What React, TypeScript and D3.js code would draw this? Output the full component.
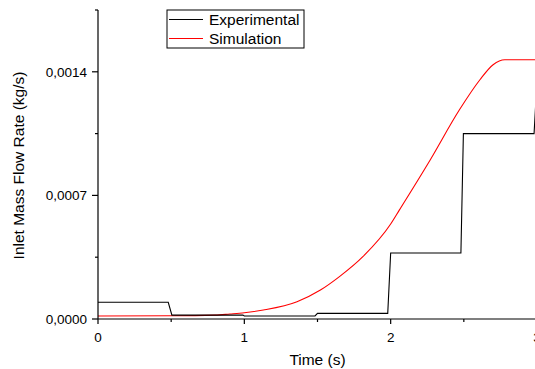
import React, { useEffect, useRef } from 'react';
import * as d3 from 'd3';

// Experimental (black step-like trace): [time s, flow kg/s]
const expTime = [0, 0.48, 0.505, 0.99, 1.0, 1.483, 1.5, 1.98, 2.0, 2.48, 2.497, 2.98, 2.99, 3.0];
const expFlow = [0.000095, 0.000095, 0.000022, 0.000022, 0.000017, 0.000017, 0.000032, 0.000032, 0.000374, 0.000374, 0.00105, 0.00105, 0.0012, 0.0012];

// Simulation (red smooth curve)
const simTime = [0, 0.5, 0.8, 0.9, 1.0, 1.13, 1.36, 1.52, 1.65, 1.81, 2.0, 2.06, 2.27, 2.47, 2.61, 2.7, 2.78, 3.0];
const simFlow = [0.000017, 0.000018, 0.000022, 0.000028, 0.000035, 0.000051, 0.000098, 0.000164, 0.00024, 0.000353, 0.000538, 0.000618, 0.000901, 0.001185, 0.001355, 0.00144, 0.001468, 0.001468];

const xMajor = [0, 1, 2, 3];
const xMinor = [0.5, 1.5, 2.5];
const yMajor = [0, 0.0007, 0.0014];
const yMinor = [0.00035, 0.00105, 0.00175];

const seriesNames = ['Experimental', 'Simulation'];
const seriesColors = ['#000000', '#ff0000'];

export default function App() {
  const svgRef = useRef<SVGSVGElement>(null);

  useEffect(() => {
    if (!svgRef.current) return;
    const svg = d3.select(svgRef.current);
    svg.selectAll('*').remove();

    const margin = { left: 98, top: 10, bottom: 50 };
    const height = 369;
    const font = 'Liberation Sans, Arial, sans-serif';

    const x = d3.scaleLinear().domain([0, 3]).range([margin.left, 537]);
    const y = d3.scaleLinear().domain([0, 0.00175]).range([height - margin.bottom, margin.top]);

    const fmt = (v: number) => d3.format('.4f')(v).replace('.', ',');

    // Lines
    const line = d3.line<[number, number]>()
      .x(d => x(d[0]))
      .y(d => y(d[1]));
    const curve = d3.line<[number, number]>()
      .curve(d3.curveMonotoneX)
      .x(d => x(d[0]))
      .y(d => y(d[1]));

    const expData = expTime.map((t, i) => [t, expFlow[i]] as [number, number]);
    const simData = simTime.map((t, i) => [t, simFlow[i]] as [number, number]);

    svg.append('path')
      .attr('d', curve(simData)!)
      .attr('fill', 'none')
      .attr('stroke', seriesColors[1])
      .attr('stroke-width', 1.1);

    svg.append('path')
      .attr('d', line(expData)!)
      .attr('fill', 'none')
      .attr('stroke', seriesColors[0])
      .attr('stroke-width', 1.1);

    // X axis
    const y0 = y(0);
    const ax = svg.append('g').attr('stroke', '#000').attr('stroke-width', 1.2);
    ax.append('line').attr('x1', x(0)).attr('x2', 537).attr('y1', y0).attr('y2', y0);
    xMajor.forEach(t => {
      ax.append('line').attr('x1', x(t)).attr('x2', x(t)).attr('y1', y0).attr('y2', y0 + 5);
    });
    xMinor.forEach(t => {
      ax.append('line').attr('x1', x(t)).attr('x2', x(t)).attr('y1', y0).attr('y2', y0 + 3);
    });
    svg.append('g').selectAll('text')
      .data(xMajor)
      .join('text')
      .attr('x', d => x(d))
      .attr('y', y0 + 23)
      .attr('text-anchor', 'middle')
      .attr('font-family', font)
      .attr('font-size', 13.5)
      .attr('fill', '#000')
      .text(d => String(d));

    // Y axis
    const x0 = x(0);
    ax.append('line').attr('x1', x0).attr('x2', x0).attr('y1', y(0.00175)).attr('y2', y0);
    yMajor.forEach(v => {
      ax.append('line').attr('x1', x0 - 6).attr('x2', x0).attr('y1', y(v)).attr('y2', y(v));
    });
    yMinor.forEach(v => {
      ax.append('line').attr('x1', x0 - 3).attr('x2', x0).attr('y1', y(v)).attr('y2', y(v));
    });
    svg.append('g').selectAll('text')
      .data(yMajor)
      .join('text')
      .attr('x', x0 - 11)
      .attr('y', d => y(d))
      .attr('dy', '0.35em')
      .attr('text-anchor', 'end')
      .attr('font-family', font)
      .attr('font-size', 13.5)
      .attr('fill', '#000')
      .text(d => fmt(d));

    // Axis titles
    svg.append('text')
      .attr('x', (x(0) + x(3)) / 2)
      .attr('y', 365)
      .attr('text-anchor', 'middle')
      .attr('font-family', font)
      .attr('font-size', 15.5)
      .attr('fill', '#000')
      .text('Time (s)');

    svg.append('text')
      .attr('transform', `translate(24, ${(y(0) + y(0.00175)) / 2 + 1}) rotate(-90)`)
      .attr('text-anchor', 'middle')
      .attr('font-family', font)
      .attr('font-size', 15.5)
      .attr('fill', '#000')
      .text('Inlet Mass Flow Rate (kg/s)');

    // Legend
    const lg = svg.append('g').attr('transform', 'translate(167, 10)');
    lg.append('rect')
      .attr('x', 0).attr('y', 0).attr('width', 137).attr('height', 38)
      .attr('fill', '#fff').attr('stroke', '#000').attr('stroke-width', 1);
    seriesNames.forEach((name, i) => {
      const ly = 9.5 + i * 19;
      lg.append('line')
        .attr('x1', 2).attr('x2', 36).attr('y1', ly).attr('y2', ly)
        .attr('stroke', seriesColors[i]).attr('stroke-width', 1.2);
      lg.append('text')
        .attr('x', 42).attr('y', ly)
        .attr('dy', '0.36em')
        .attr('font-family', font)
        .attr('font-size', 15.5)
        .attr('fill', '#000')
        .text(name);
    });
  }, []);

  return (
    <svg
      ref={svgRef}
      width={535}
      height={369}
      style={{ position: 'absolute', left: 0, top: 0, background: '#fff' }}
    />
  );
}
